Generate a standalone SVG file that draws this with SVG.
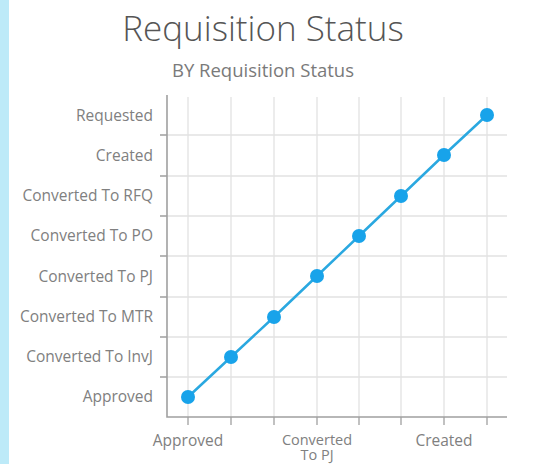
<svg xmlns="http://www.w3.org/2000/svg" width="537" height="464" viewBox="0 0 537 464">
<style>
.t{font-family:"Open Sans","Noto Sans","Liberation Sans",sans-serif;}
.title{font-size:35px;font-weight:300;fill:#555;}
.sub{font-size:18.5px;fill:#7a7a7a;}
.yl{font-size:15.5px;fill:#808080;text-anchor:end;}
.xl{font-size:15.5px;fill:#808080;text-anchor:middle;}
.xl2{font-size:14.5px;fill:#808080;text-anchor:middle;}
.grid{stroke:#e2e2e2;stroke-width:1.3;fill:none;}
.axis{stroke:#a0a0a0;stroke-width:1.6;fill:none;}
.tick{stroke:#a0a0a0;stroke-width:1.3;fill:none;}
.series{fill:none;stroke:#2aa8e0;stroke-width:2.5;}
.pt{fill:#18a3ea;}
</style>
<rect x="0" y="0" width="537" height="464" fill="#fff"/>
<rect x="0" y="0" width="9" height="464" fill="#bdeaf8"/>
<text class="t title" x="263" y="41" text-anchor="middle">Requisition Status</text>
<text class="t sub" x="263" y="77" text-anchor="middle">BY Requisition Status</text>
<g id="grid">
<path class="grid" d="M167 135H507M167 176H507M167 216H507M167 256H507M167 297H507M167 337H507M167 377H507"/>
<path class="grid" d="M188 97V417M231 97V417M274 97V417M317 97V417M359 97V417M401 97V417M444 97V417M487 97V417"/>
</g>
<g id="axes">
<path class="axis" d="M167 95V417H507"/>
<path class="tick" d="M160 135H167M160 176H167M160 216H167M160 256H167M160 297H167M160 337H167M160 377H167"/>
<path class="tick" d="M188 417V425M231 417V425M274 417V425M317 417V425M359 417V425M401 417V425M444 417V425M487 417V425"/>
</g>
<g id="y-labels">
<text class="t yl" x="153" y="121">Requested</text>
<text class="t yl" x="153" y="161">Created</text>
<text class="t yl" x="153" y="201">Converted To RFQ</text>
<text class="t yl" x="153" y="241">Converted To PO</text>
<text class="t yl" x="153" y="282">Converted To PJ</text>
<text class="t yl" x="153" y="322">Converted To MTR</text>
<text class="t yl" x="153" y="362">Converted To InvJ</text>
<text class="t yl" x="153" y="402">Approved</text>
</g>
<g id="x-labels">
<text class="t xl" x="188" y="446">Approved</text>
<text class="t xl2" x="317" y="445">Converted</text>
<text class="t xl2" x="317" y="460">To PJ</text>
<text class="t xl" x="444" y="446">Created</text>
</g>
<g id="connectors">
<polyline class="series" points="188,397 231,357 274,317 317,276 359,236 401,196 444,155 487,115"/>
</g>
<g id="points">
<circle id="p-approved" class="pt" cx="188" cy="397" r="7"/>
<circle id="p-invj" class="pt" cx="231" cy="357" r="7"/>
<circle id="p-mtr" class="pt" cx="274" cy="317" r="7"/>
<circle id="p-pj" class="pt" cx="317" cy="276" r="7"/>
<circle id="p-po" class="pt" cx="359" cy="236" r="7"/>
<circle id="p-rfq" class="pt" cx="401" cy="196" r="7"/>
<circle id="p-created" class="pt" cx="444" cy="155" r="7"/>
<circle id="p-requested" class="pt" cx="487" cy="115" r="7"/>
</g>
</svg>
